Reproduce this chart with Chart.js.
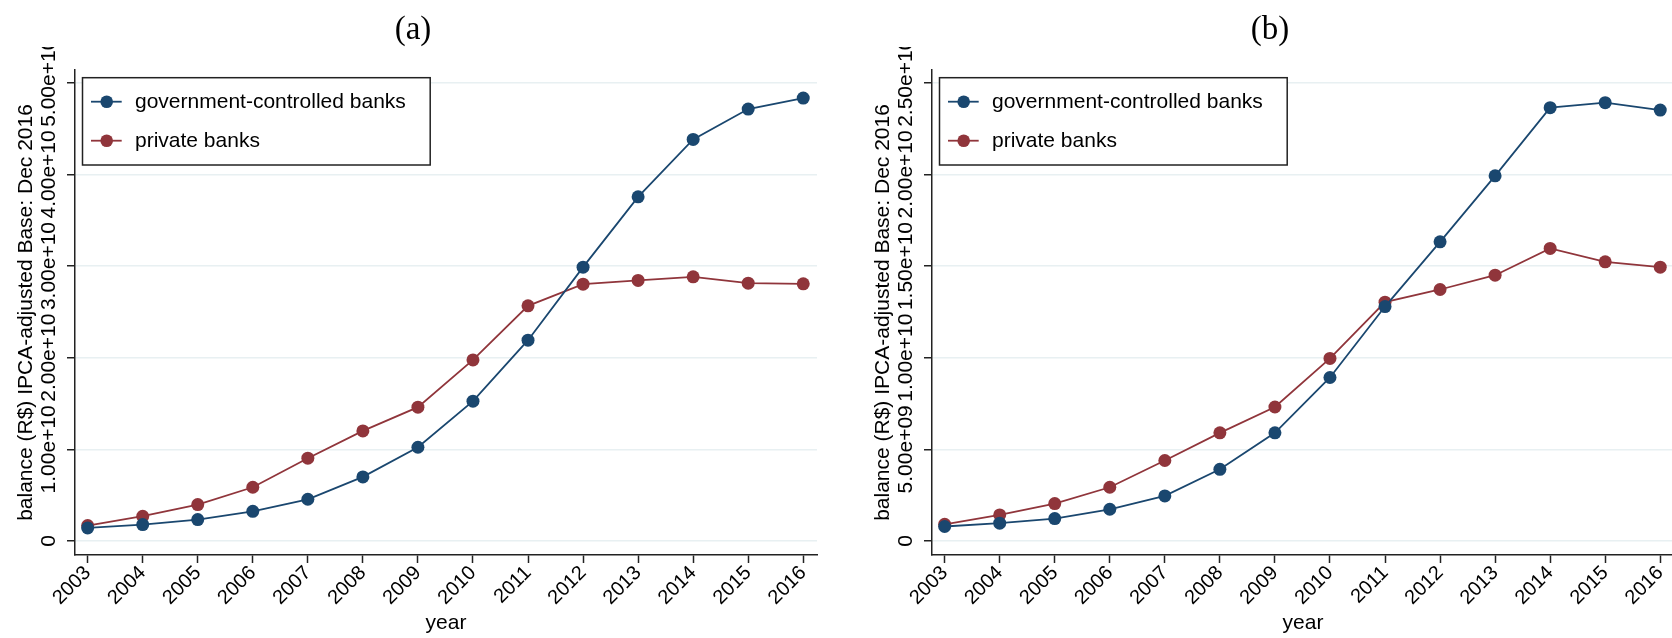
<!DOCTYPE html>
<html lang="en">
<head>
  <meta charset="UTF-8">
  <title>Bank balances 2003-2016</title>
  <script src="https://cdn.jsdelivr.net/npm/chart.js"></script>
  <style>
    * { margin: 0; padding: 0; box-sizing: border-box; }
    body { width: 1672px; height: 638px; background: #fff; overflow: hidden; position: relative; }
    .panel { position: absolute; top: 0; height: 638px; overflow: hidden; }
    .panel canvas { display: block; }
    #panelA { left: 0; width: 836px; }
    #panelB { left: 857px; width: 815px; }
  </style>
</head>
<body>
  <div class="panel" id="panelA"><canvas id="chartA" width="836" height="638"></canvas></div>
  <div class="panel" id="panelB"><canvas id="chartB" width="836" height="638"></canvas></div>

  <script>
    const years = [2003, 2004, 2005, 2006, 2007, 2008, 2009, 2010, 2011, 2012, 2013, 2014, 2015, 2016];

    // (a) balances, R$ at Dec 2016 prices
    const govA  = [1.42e9, 1.79e9, 2.34e9, 3.24e9, 4.55e9, 6.99e9, 1.023e10, 1.525e10, 2.191e10, 2.988e10, 3.755e10, 4.382e10, 4.713e10, 4.833e10];
    const privA = [1.68e9, 2.70e9, 3.97e9, 5.86e9, 9.03e9, 1.201e10, 1.460e10, 1.976e10, 2.566e10, 2.802e10, 2.843e10, 2.882e10, 2.813e10, 2.806e10];
    const yTicksA  = [0, 1e10, 2e10, 3e10, 4e10, 5e10];
    const yLabelsA = ['0', '1.00e+10', '2.00e+10', '3.00e+10', '4.00e+10', '5.00e+10'];

    // (b)
    const govB  = [7.9e8, 9.7e8, 1.22e9, 1.73e9, 2.46e9, 3.91e9, 5.90e9, 8.92e9, 1.279e10, 1.632e10, 1.992e10, 2.364e10, 2.391e10, 2.351e10];
    const privB = [9.1e8, 1.42e9, 2.04e9, 2.93e9, 4.39e9, 5.90e9, 7.31e9, 9.96e9, 1.303e10, 1.372e10, 1.450e10, 1.596e10, 1.523e10, 1.494e10];
    const yTicksB  = [0, 5e9, 1e10, 1.5e10, 2e10, 2.5e10];
    const yLabelsB = ['0', '5.00e+09', '1.00e+10', '1.50e+10', '2.00e+10', '2.50e+10'];

    const seriesNames = ['government-controlled banks', 'private banks'];
    const NAVY = '#1a476f';
    const MAROON = '#90353b';
    const AXIS = '#222';
    const SANS = '"Liberation Sans", Arial, sans-serif';

    // panel letter, rotated tick labels and the boxed legend
    function makeDecor(letter, tickVals, tickLabels) {
      return {
        id: 'decor',
        afterDraw(chart) {
          const ctx = chart.ctx;
          const area = chart.chartArea;
          const xScale = chart.scales.x;
          const yScale = chart.scales.y;

          ctx.save();
          ctx.font = '33px "Liberation Serif", serif';
          ctx.fillStyle = '#000';
          ctx.textAlign = 'center';
          ctx.textBaseline = 'alphabetic';
          ctx.fillText(letter, 413, 39);
          ctx.restore();

          // y labels run bottom-to-top and get cut off near the top edge
          ctx.save();
          ctx.beginPath();
          ctx.rect(0, 47, area.left, chart.height - 47);
          ctx.clip();
          ctx.font = '21px ' + SANS;
          ctx.fillStyle = '#000';
          ctx.textAlign = 'center';
          ctx.textBaseline = 'alphabetic';
          tickVals.forEach((v, i) => {
            ctx.save();
            ctx.translate(55, yScale.getPixelForValue(v));
            ctx.rotate(-Math.PI / 2);
            ctx.fillText(tickLabels[i], 0, 0);
            ctx.restore();
          });
          ctx.restore();

          // year labels at 45 degrees, ending just under each tick
          ctx.save();
          ctx.font = '20px ' + SANS;
          ctx.fillStyle = '#000';
          ctx.textAlign = 'right';
          ctx.textBaseline = 'alphabetic';
          years.forEach(yr => {
            ctx.save();
            ctx.translate(xScale.getPixelForValue(yr) + 4, area.bottom + 18.7);
            ctx.rotate(-Math.PI / 4);
            ctx.fillText(String(yr), 0, 0);
            ctx.restore();
          });
          ctx.restore();

          // legend
          const bx = area.left + 7.5, by = 77.7, bw = 347.7, bh = 87.3;
          ctx.save();
          ctx.fillStyle = '#fff';
          ctx.fillRect(bx, by, bw, bh);
          ctx.strokeStyle = AXIS;
          ctx.lineWidth = 1.5;
          ctx.strokeRect(bx, by, bw, bh);
          chart.data.datasets.forEach((ds, i) => {
            const ry = 101.7 + i * 39;
            ctx.strokeStyle = ds.borderColor;
            ctx.lineWidth = 1.8;
            ctx.beginPath();
            ctx.moveTo(area.left + 16, ry);
            ctx.lineTo(area.left + 46.7, ry);
            ctx.stroke();
            ctx.fillStyle = ds.borderColor;
            ctx.beginPath();
            ctx.arc(area.left + 31.7, ry, 6.3, 0, Math.PI * 2);
            ctx.fill();
            ctx.fillStyle = '#000';
            ctx.font = '21px ' + SANS;
            ctx.textBaseline = 'alphabetic';
            ctx.fillText(ds.label, area.left + 60, ry + 6.6);
          });
          ctx.restore();
        }
      };
    }

    function buildChart(canvasId, gov, priv, yMin, yMax, tickVals, tickLabels, letter) {
      const line = (label, data, color) => ({
        label: label,
        data: years.map((yr, i) => ({ x: yr, y: data[i] })),
        borderColor: color,
        backgroundColor: color,
        borderWidth: 1.8,
        pointRadius: 6.5,
        pointHoverRadius: 6.5,
        pointBorderWidth: 0,
        tension: 0
      });

      return new Chart(document.getElementById(canvasId), {
        type: 'line',
        data: {
          datasets: [
            line(seriesNames[0], gov, NAVY),
            line(seriesNames[1], priv, MAROON)
          ]
        },
        options: {
          responsive: false,
          animation: false,
          layout: { padding: { top: 70, right: 19, bottom: 0, left: 0 } },
          plugins: { legend: { display: false }, tooltip: { enabled: false } },
          scales: {
            x: {
              type: 'linear',
              min: 2002.77,
              max: 2016.25,
              afterBuildTicks: axis => { axis.ticks = years.map(v => ({ value: v })); },
              afterFit: axis => { axis.height = 83; },
              grid: { drawOnChartArea: false, drawTicks: true, tickLength: 8, tickColor: AXIS, tickWidth: 1.5 },
              border: { display: true, color: AXIS, width: 1.5 },
              ticks: { display: false },
              title: { display: true, text: 'year', color: '#000', font: { family: SANS, size: 21 }, padding: { top: 0, bottom: 2 } }
            },
            y: {
              type: 'linear',
              min: yMin,
              max: yMax,
              afterBuildTicks: axis => { axis.ticks = tickVals.map(v => ({ value: v })); },
              afterFit: axis => { axis.width = 75; },
              grid: { color: '#e8f0f2', lineWidth: 1.5, drawTicks: true, tickLength: 8, tickColor: AXIS, tickWidth: 1.5 },
              border: { display: true, color: AXIS, width: 1.5 },
              ticks: { display: false },
              title: {
                display: true,
                text: 'balance (R$) IPCA-adjusted Base: Dec 2016',
                color: '#000',
                font: { family: SANS, size: 21 },
                padding: { top: 13.4, bottom: 0 }
              }
            }
          }
        },
        plugins: [makeDecor(letter, tickVals, tickLabels)]
      });
    }

    buildChart('chartA', govA, privA, -1.53e9, 5.139e10, yTicksA, yLabelsA, '(a)');
    buildChart('chartB', govB, privB, -7.65e8, 2.5695e10, yTicksB, yLabelsB, '(b)');
  </script>
</body>
</html>
